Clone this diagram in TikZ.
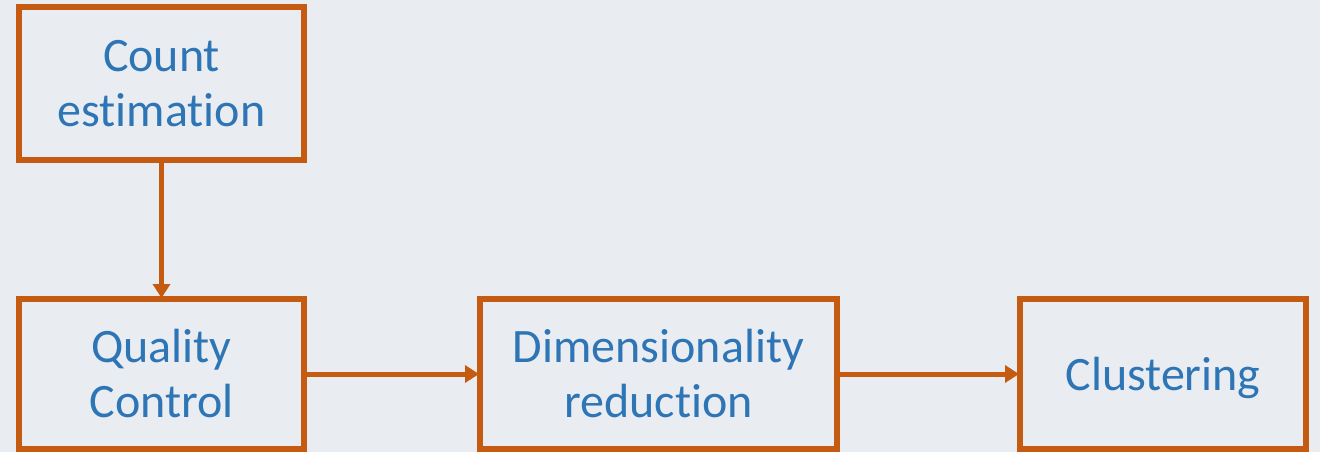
\documentclass[tikz,border=0pt]{standalone}
\usepackage{fontspec}
\setmainfont[RawFeature={-liga;-clig;-calt;-dlig}]{Carlito}
\usetikzlibrary{arrows.meta}
\definecolor{bg}{HTML}{E9ECF1}
\definecolor{boxline}{HTML}{C55A11}
\definecolor{txt}{HTML}{2E75B6}
\tikzset{
  stepbox/.style={draw=boxline, line width=6pt, inner sep=0pt, align=center,
    text=txt, font=\fontsize{48}{55}\selectfont},
  conn/.style={draw=boxline, line width=5pt, -{Triangle[length=14pt,width=17pt]}, shorten >=-2pt}
}
\begin{document}
\begin{tikzpicture}[x=1pt,y=1pt]
\fill[bg] (0,0) rectangle (1320,-452);
\useasboundingbox (0,0) rectangle (1320,-452);
\node[stepbox, minimum width=285pt, minimum height=153pt] (count) at (161.5,-83.5) {Count\\est\kern0pt imat\kern0pt ion};
\node[stepbox, minimum width=285pt, minimum height=150pt] (qc) at (161.5,-374) {Quality\\Control};
\node[stepbox, minimum width=357pt, minimum height=150pt] (dr) at (658.5,-374) {Dimensionality\\reduct\kern0pt ion};
\node[stepbox, minimum width=286pt, minimum height=150pt, text depth=0pt] (cl) at (1163,-374) {Clustering};
\draw[conn] (count.south) -- (qc.north);
\draw[conn] (qc.east) -- (dr.west);
\draw[conn] (dr.east) -- (cl.west);
\end{tikzpicture}
\end{document}
